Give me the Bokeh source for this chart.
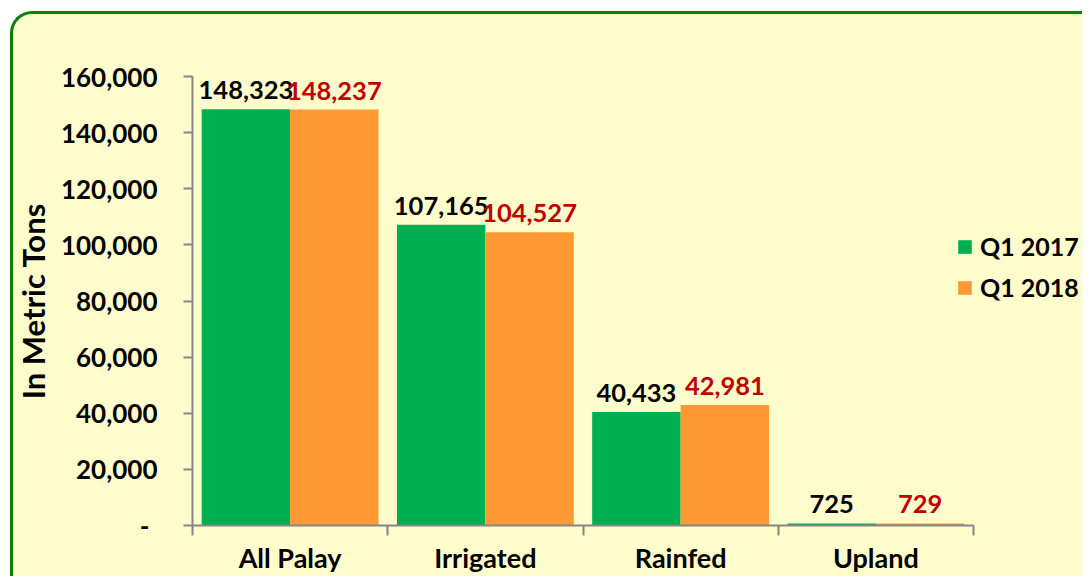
from bokeh.plotting import figure
from bokeh.models import (ColumnDataSource, Range1d, LinearAxis, FixedTicker,
                          Legend, LegendItem, NumeralTickFormatter, InlineStyleSheet)
from bokeh.transform import dodge
from bokeh.core.properties import value
from bokeh.embed import file_html
from bokeh.resources import INLINE

# ---------------- data ----------------
categories = ["All Palay", "Irrigated", "Rainfed", "Upland"]
q1_2017 = [148323, 107165, 40433, 725]
q1_2018 = [148237, 104527, 42981, 729]
series_names = ["Q1 2017", "Q1 2018"]
y_ticks = [0, 20000, 40000, 60000, 80000, 100000, 120000, 140000, 160000]
y_title = "In Metric Tons"

# ---------------- style ----------------
FONT = "Lato"
GREEN = "#00B050"
ORANGE = "#FF9933"
LABEL_RED = "#C00000"
AXIS_GRAY = "#868686"
PANEL_BG = "#FFFDCB"
BORDER_GREEN = "#0A7F0A"

n = len(categories)
centres = [i + 0.5 for i in range(n)]      # category slot centres
bounds = list(range(n + 1))                # category slot boundaries
X_END = n * 890 / 781                      # frame runs on past the last slot (legend room)

src = ColumnDataSource(dict(
    pos=centres,
    a=q1_2017,
    b=q1_2018,
    la=[f"{v:,}" for v in q1_2017],
    lb=[f"{v:,}" for v in q1_2018],
))

p = figure(width=1082, height=576,
           x_range=Range1d(0, X_END),
           y_range=Range1d(y_ticks[0], y_ticks[-1]),
           x_axis_type=None, y_axis_type=None,
           output_backend="svg", toolbar_location=None,
           min_border_left=192, min_border_right=0,
           min_border_top=76, min_border_bottom=48,
           background_fill_color=None, border_fill_color=None,
           outline_line_color=None)
p.styles = {"margin-bottom": "-8px", "position": "relative"}
p.stylesheets = [InlineStyleSheet(css=f"""
:host::before {{
  content: "";
  position: absolute;
  left: 10px; top: 11px; right: 0; bottom: 0;
  border-left: 3px solid {BORDER_GREEN};
  border-top: 3px solid {BORDER_GREEN};
  border-top-left-radius: 22px;
  background: {PANEL_BG};
  z-index: -1;
  pointer-events: none;
}}
""")]

# y axis
yaxis = LinearAxis(ticker=FixedTicker(ticks=y_ticks, minor_ticks=[]),
                   formatter=NumeralTickFormatter(format="0,0"),
                   major_label_overrides={0: "-\u00a0\u200a"},
                   axis_line_color=AXIS_GRAY, axis_line_width=2,
                   major_tick_line_color=AXIS_GRAY, major_tick_line_width=2,
                   major_tick_in=0, major_tick_out=9,
                   major_label_standoff=26,
                   major_label_text_font=FONT, major_label_text_font_style="bold",
                   major_label_text_font_size="26px", major_label_text_color="black",
                   axis_label=y_title, axis_label_text_font=FONT,
                   axis_label_text_font_style="bold", axis_label_text_font_size="31px",
                   axis_label_text_color="black", axis_label_standoff=6)
p.add_layout(yaxis, "left")

# x axis: ticks at category boundaries, labels at centres
xaxis = LinearAxis(ticker=FixedTicker(ticks=centres, minor_ticks=bounds),
                   bounds=(0, n),
                   major_label_overrides={c: name for c, name in zip(centres, categories)},
                   axis_line_color=AXIS_GRAY, axis_line_width=2,
                   major_tick_line_color=None, major_tick_in=0, major_tick_out=10,
                   minor_tick_line_color=AXIS_GRAY, minor_tick_line_width=2,
                   minor_tick_in=0, minor_tick_out=10,
                   major_label_standoff=5,
                   major_label_text_font=FONT, major_label_text_font_style="bold",
                   major_label_text_font_size="27px", major_label_text_color="black")
p.add_layout(xaxis, "below")

OFF = 0.2265
W = 0.453
r1 = p.vbar(x=dodge("pos", -OFF), top="a", width=W, source=src,
            fill_color=GREEN, line_color=None)
r2 = p.vbar(x=dodge("pos", OFF), top="b", width=W, source=src,
            fill_color=ORANGE, line_color=None)

p.text(x=dodge("pos", -OFF), y="a", text="la", source=src,
       text_align="center", text_baseline="alphabetic", y_offset=-19,
       text_font=value(FONT), text_font_style="bold", text_font_size="25.5px",
       text_color="black")
p.text(x=dodge("pos", OFF), y="b", text="lb", source=src,
       text_align="center", text_baseline="alphabetic", y_offset=-19,
       text_font=value(FONT), text_font_style="bold", text_font_size="25.5px",
       text_color=LABEL_RED)

legend = Legend(items=[LegendItem(label=series_names[0], renderers=[r1]),
                       LegendItem(label=series_names[1], renderers=[r2])],
                location=(764, 223), orientation="vertical",
                background_fill_alpha=0, border_line_color=None,
                glyph_width=17, glyph_height=17, label_standoff=7,
                spacing=11, padding=0, margin=0,
                label_text_font=FONT, label_text_font_style="bold",
                label_text_font_size="25px", label_text_color="black")
p.add_layout(legend, "center")

open("out.html", "w").write(file_html(p, INLINE))
